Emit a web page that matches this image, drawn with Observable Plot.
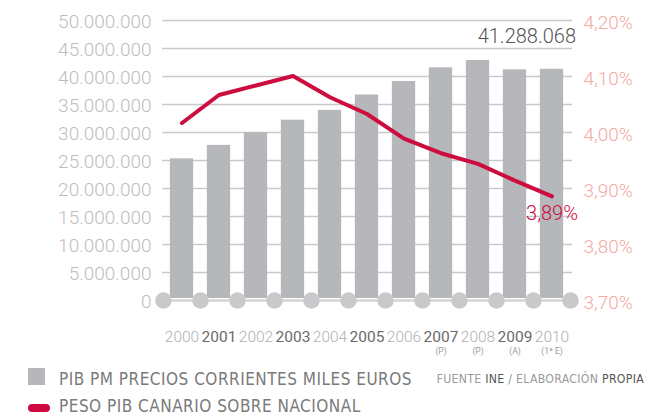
<!DOCTYPE html>
<html><head><meta charset="utf-8">
<script src="https://cdn.jsdelivr.net/npm/d3@7"></script>
<script src="https://cdn.jsdelivr.net/npm/@observablehq/plot@0.6"></script>
<style>
body{margin:0;background:#fff;}
#chart svg{display:block}
.legend{position:relative;width:645px;height:55px;font-family:"Liberation Sans Narrow","Arial Narrow","DejaVu Sans Condensed",sans-serif;}
.legend div{position:absolute;white-space:nowrap;}
</style></head><body>
<div id="chart"></div>
<div class="legend">
  <div style="left:28px;top:8px;width:17px;height:17px;background:#b6b7ba"></div>
  <div id="lg1" style="left:59px;top:9px;font-size:17px;line-height:20px;letter-spacing:0.5px;color:#7a7a7a"></div>
  <div id="src" style="right:1px;top:11px;font-size:12.2px;line-height:16px;letter-spacing:0.3px;color:#9a9a9a"></div>
  <div style="left:28px;top:44px;width:22px;height:8px;border-radius:4px;background:#cd0d3f"></div>
  <div id="lg2" style="left:59px;top:36px;font-size:17px;line-height:20px;letter-spacing:0.5px;color:#7a7a7a"></div>
</div>
<script>
const years = [2000, 2001, 2002, 2003, 2004, 2005, 2006, 2007, 2008, 2009, 2010];
const pib = [25300000, 27700000, 30000000, 32200000, 33950000, 36700000, 39100000, 41550000, 42860000, 41190000, 41288068];
const peso = [4.017, 4.067, 4.084, 4.101, 4.063, 4.033, 3.989, 3.963, 3.944, 3.914, 3.886];
const yearNotes = ["", "", "", "", "", "", "", "(P)", "(P)", "(A)", "(1ª E)"];
const pibTicks = [0, 5000000, 10000000, 15000000, 20000000, 25000000, 30000000, 35000000, 40000000, 45000000, 50000000];
const pesoTicks = [3.7, 3.8, 3.9, 4.0, 4.1, 4.2];
const legendBars = "PIB PM PRECIOS CORRIENTES MILES EUROS";
const legendLine = "PESO PIB CANARIO SOBRE NACIONAL";
const sourceParts = [["FUENTE ", false], ["INE", true], [" / ELABORACIÓN ", false], ["PROPIA", true]];

const pesoMin = 3.7, pesoMax = 4.2, pibMax = 50000000;
const toPib = p => (p - pesoMin) / (pesoMax - pesoMin) * pibMax;
const data = years.map((y, i) => ({year: y, pib: pib[i], peso: peso[i], note: yearNotes[i], i}));
const bounds = [...years.map(y => y - 0.5), years[years.length - 1] + 0.5];
const fmtPib = d => d3.format(",")(d).replace(/,/g, ".");
const fmtPct = p => p.toFixed(2).replace(".", ",") + "%";
const last = data[data.length - 1];
const RED = "#cd0d3f";
const numFont = "Roboto, 'Liberation Sans', sans-serif";

const chart = Plot.plot({
  width: 645, height: 360,
  marginTop: 20, marginBottom: 60, marginLeft: 163, marginRight: 75,
  style: {fontFamily: numFont, background: "white"},
  x: {type: "linear", domain: [1999.5, 2010.5], axis: null},
  y: {domain: [0, pibMax], axis: null},
  marks: [
    Plot.ruleY(pibTicks.slice(1), {stroke: "#c9c9c9", strokeWidth: 1.3, insetLeft: -1, insetRight: -2}),
    Plot.rectY(data, {x1: d => d.year - 0.315, x2: d => d.year + 0.315, y1: 0, y2: "pib", fill: "#b6b7ba", insetBottom: 2}),
    Plot.ruleY([0], {stroke: "#d4d4d6", strokeWidth: 2.5}),
    Plot.dot(bounds, {x: d => d, y: 0, r: 8.3, fill: "#c8c9cb"}),
    Plot.line(data, {x: "year", y: d => toPib(d.peso), stroke: RED, strokeWidth: 4, strokeLinejoin: "round", curve: "linear"}),
    Plot.text(pibTicks, {frameAnchor: "left", y: d => d, text: fmtPib, textAnchor: "end", lineAnchor: "middle", dx: -12, dy: 1, fontSize: 19, fontWeight: 300, fill: "#bdbdbd"}),
    Plot.text(pesoTicks, {frameAnchor: "right", y: toPib, text: fmtPct, textAnchor: "start", lineAnchor: "middle", dx: 13, dy: 2, fontSize: 19, fontWeight: 300, fill: "#f2aaa1"}),
    Plot.text(data.filter(d => d.i % 2 === 0), {x: "year", frameAnchor: "bottom", lineAnchor: "middle", text: d => String(d.year), dy: 37, fontSize: 15.5, fontWeight: 300, fill: "#b0b0b0"}),
    Plot.text(data.filter(d => d.i % 2 === 1), {x: "year", frameAnchor: "bottom", lineAnchor: "middle", text: d => String(d.year), dy: 37, fontSize: 15.5, fontWeight: 400, fill: "#6a6a6a"}),
    Plot.text(data.filter(d => d.note), {x: "year", frameAnchor: "bottom", lineAnchor: "middle", text: "note", dy: 51, fontSize: 8.5, fill: "#9a9a9a"}),
    Plot.text([last], {x: "year", frameAnchor: "top", lineAnchor: "middle", text: d => fmtPib(d.pib), textAnchor: "end", dx: 24, dy: 16, fontSize: 20, fontWeight: 300, fill: "#555"}),
    Plot.text([last], {x: "year", y: d => toPib(d.peso), lineAnchor: "middle", text: d => fmtPct(d.peso), dy: 17, fontSize: 20, fontWeight: 300, fill: RED})
  ]
});
document.getElementById("chart").appendChild(chart);
document.getElementById("lg1").textContent = legendBars;
document.getElementById("lg2").textContent = legendLine;
const src = document.getElementById("src");
sourceParts.forEach(([t, strong]) => {
  const s = document.createElement("span");
  s.textContent = t;
  if (strong) s.style.color = "#555";
  src.appendChild(s);
});
</script>
</body></html>
